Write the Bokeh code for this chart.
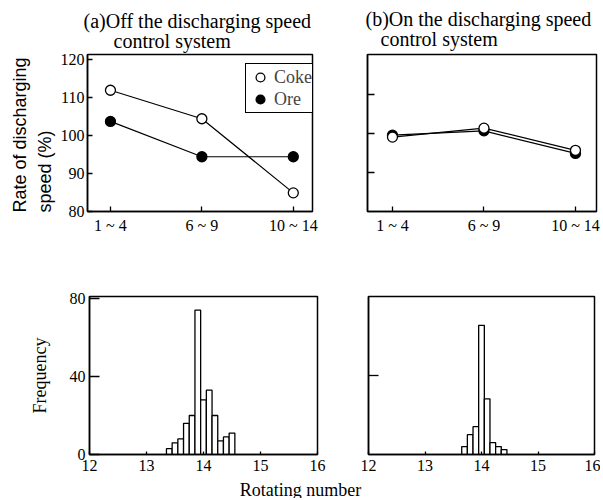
from bokeh.plotting import figure
from bokeh.layouts import column, row
from bokeh.models import FixedTicker, Legend, LegendItem, Label, Range1d, Title
from bokeh.embed import file_html
from bokeh.resources import INLINE

# ---------------- data ----------------
categories = ["1 ~ 4", "6 ~ 9", "10 ~ 14"]
cat_pos = [0, 1, 2]
coke_off = [111.9, 104.4, 84.9]
ore_off = [103.7, 94.4, 94.4]
coke_on = [99.1, 101.4, 95.7]
ore_on = [99.6, 100.7, 94.9]

rate_ticks = [80, 90, 100, 110, 120]
rate_inner_ticks = [90, 100, 110]

hist_off_x = [13.4, 13.5, 13.6, 13.7, 13.8, 13.9, 14.0, 14.1, 14.2, 14.3, 14.4, 14.5]
hist_off_freq = [3, 6, 8, 16, 20, 74, 28, 33, 20, 7, 9, 11]
hist_on_x = [13.7, 13.8, 13.9, 14.0, 14.1, 14.2, 14.3, 14.4]
hist_on_freq = [4, 10, 14, 65, 28, 6, 4, 2.5]
bin_width = 0.1

freq_ticks = [0, 40, 80]
freq_inner_ticks = [40]
rot_ticks = [12, 13, 14, 15, 16]

SERIF = "Liberation Serif"
SANS = "Liberation Sans"
TICK_FS = "16px"
NB = "\u00a0"


def make_fig(w, h, bl, br, bt, bb, xr, yr):
    p = figure(width=w, height=h, x_range=Range1d(*xr), y_range=Range1d(*yr),
               output_backend="svg", toolbar_location=None,
               min_border_left=bl, min_border_right=br,
               min_border_top=bt, min_border_bottom=bb)
    p.grid.visible = False
    p.outline_line_color = "black"
    p.outline_line_width = 1.5
    p.outline_line_alpha = 1.0
    p.background_fill_color = "white"
    p.border_fill_color = "white"
    for ax in p.axis:
        ax.axis_line_width = 1.5
        ax.axis_line_color = "black"
        ax.major_tick_out = 0
        ax.major_tick_line_width = 1.3
        ax.minor_tick_line_color = None
        ax.major_label_text_font = SERIF
        ax.major_label_text_font_size = TICK_FS
        ax.major_label_text_color = "black"
    return p


def add_title(p, txt, place, size, font=SERIF, align="left", offset=0, standoff=0, lh=1.0):
    p.add_layout(Title(text=txt, align=align, offset=offset, standoff=standoff,
                       text_font=font, text_font_size=size, text_font_style="normal",
                       text_color="black", text_line_height=lh), place)


# ---------------- (a) rate, off ----------------
p1 = make_fig(335, 248, 87, 23, 50, 37, (-0.251, 2.21), (80, 121.3))
p1.xaxis.ticker = FixedTicker(ticks=cat_pos)
p1.xaxis.major_label_overrides = {c: t for c, t in zip(cat_pos, categories)}
p1.xaxis.major_tick_in = 5
p1.xaxis.major_label_standoff = 5
p1.yaxis.ticker = FixedTicker(ticks=rate_ticks)
p1.yaxis.major_tick_in = 5
p1.yaxis.major_label_standoff = 3

p1.line(cat_pos, coke_off, line_color="black", line_width=1.2)
p1.line(cat_pos, ore_off, line_color="black", line_width=1.2)
r_coke = p1.scatter(cat_pos, coke_off, marker="circle", size=10, fill_color="white",
                    line_color="black", line_width=1.3)
r_ore = p1.scatter(cat_pos, ore_off, marker="circle", size=10, fill_color="black",
                   line_color="black", line_width=1.3)

legend = Legend(items=[LegendItem(label="Coke", renderers=[r_coke]),
                       LegendItem(label="Ore", renderers=[r_ore])],
                location=(158, 98), label_text_font=SERIF, label_text_font_size="18px",
                border_line_color="black", border_line_width=1.5, border_line_alpha=1.0,
                background_fill_color="white", background_fill_alpha=1.0,
                padding=2, spacing=0, margin=0, glyph_width=24, glyph_height=22,
                label_standoff=2, label_height=22)
p1.add_layout(legend)

add_title(p1, "(a)Off the discharging speed\n" + NB * 6 + "control system", "above", "20px",
          offset=-4, standoff=4, lh=0.95)
add_title(p1, "speed (%)", "left", "18px", font=SANS, align="left", offset=-1, standoff=6)
add_title(p1, "Rate of discharging", "left", "18px", font=SANS, align="left", offset=-1, standoff=0)

# ---------------- (b) rate, on ----------------
p2 = make_fig(265, 248, 32, 4, 54, 37, (-0.273, 2.23), (80, 120.3))
p2.xaxis.ticker = FixedTicker(ticks=cat_pos)
p2.xaxis.major_label_overrides = {c: t for c, t in zip(cat_pos, categories)}
p2.xaxis.major_tick_in = 5
p2.xaxis.major_label_standoff = 5
p2.yaxis.ticker = FixedTicker(ticks=rate_inner_ticks)
p2.yaxis.major_tick_in = 7
p2.yaxis.major_label_text_color = None

p2.line(cat_pos, ore_on, line_color="black", line_width=1.2)
p2.line(cat_pos, coke_on, line_color="black", line_width=1.2)
p2.scatter(cat_pos, ore_on, marker="circle", size=10, fill_color="black",
           line_color="black", line_width=1.3)
p2.scatter(cat_pos, coke_on, marker="circle", size=10, fill_color="white",
           line_color="black", line_width=1.3)

add_title(p2, "(b)On the discharging speed\n" + NB * 3 + "control system", "above", "20px",
          offset=-2, standoff=8, lh=0.95)

# ---------------- histogram, off ----------------
p3 = make_fig(335, 232, 89, 18, 45, 26, (12, 16), (0, 81))
p3.xaxis.ticker = FixedTicker(ticks=rot_ticks)
p3.xaxis.major_tick_in = 3
p3.xaxis.major_label_standoff = 5
p3.yaxis.ticker = FixedTicker(ticks=freq_ticks)
p3.yaxis.major_tick_in = 10
p3.yaxis.major_label_standoff = 4
p3.vbar(x=hist_off_x, width=bin_width, top=hist_off_freq, bottom=0,
        fill_color="white", line_color="black", line_width=1.3)
add_title(p3, "Frequency", "left", "18px", align="center", standoff=33)

# ---------------- histogram, on ----------------
p4 = make_fig(265, 232, 33, 6, 48, 25, (12, 16), (0, 79.5))
p4.xaxis.ticker = FixedTicker(ticks=rot_ticks)
p4.xaxis.major_tick_in = 3
p4.xaxis.major_label_standoff = 5
p4.yaxis.ticker = FixedTicker(ticks=freq_inner_ticks)
p4.yaxis.major_tick_in = 10
p4.yaxis.major_label_text_color = None
p4.vbar(x=hist_on_x, width=bin_width, top=hist_on_freq, bottom=0,
        fill_color="white", line_color="black", line_width=1.3)

# ---------------- common x label ----------------
p5 = figure(width=600, height=18, x_axis_location=None, y_axis_location=None,
            toolbar_location=None, output_backend="svg", min_border=0,
            x_range=Range1d(0, 1), y_range=Range1d(0, 1))
p5.outline_line_color = None
p5.grid.visible = False
p5.border_fill_color = "white"
p5.add_layout(Label(x=300, y=9, x_units="screen", y_units="screen", text="Rotating number",
                    text_font=SERIF, text_font_size="18px", text_color="black",
                    text_align="center", text_baseline="middle"))

layout = column(row(p1, p2), row(p3, p4), p5)
open("out.html", "w").write(file_html(layout, INLINE))
